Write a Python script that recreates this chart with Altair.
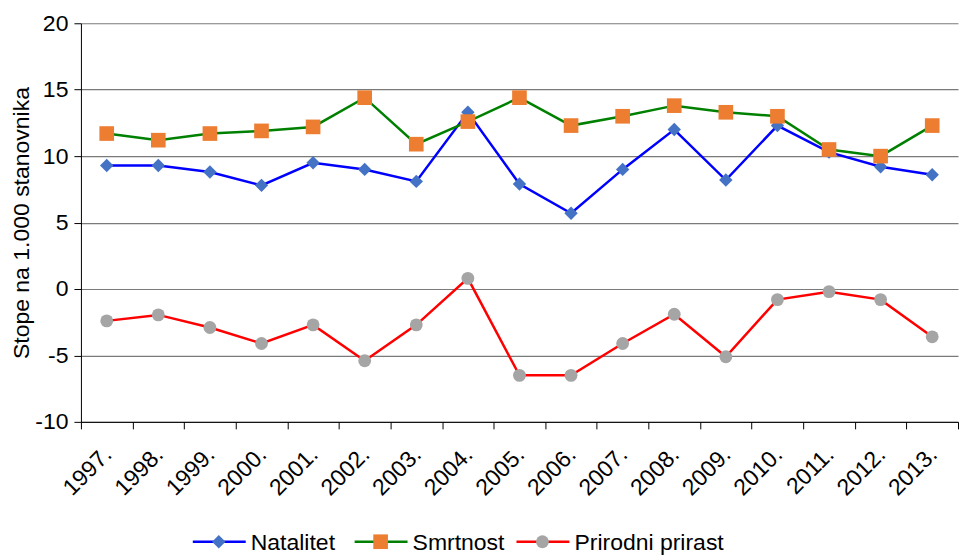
import altair as alt
import pandas as pd

years = ["1997.", "1998.", "1999.", "2000.", "2001.", "2002.", "2003.", "2004.", "2005.",
         "2006.", "2007.", "2008.", "2009.", "2010.", "2011.", "2012.", "2013."]
natalitet = [9.3, 9.3, 8.8, 7.8, 9.5, 9.0, 8.1, 13.3, 7.9, 5.7, 9.0, 12.0, 8.2, 12.3, 10.3, 9.2, 8.6]
smrtnost = [11.7, 11.2, 11.7, 11.9, 12.2, 14.4, 10.9, 12.6, 14.4, 12.3, 13.0, 13.8, 13.3, 13.0, 10.5, 10.0, 12.3]
prirodni_prirast = [-2.4, -1.95, -2.9, -4.1, -2.7, -5.4, -2.7, 0.8, -6.5, -6.5, -4.1, -1.9, -5.1, -0.8, -0.2, -0.8, -3.6]

series = ["Natalitet", "Smrtnost", "Prirodni prirast"]
y_ticks = [-10, -5, 0, 5, 10, 15, 20]

line_colors = ["#0000FF", "#008000", "#FF0000"]
marker_colors = ["#4472C4", "#ED7D31", "#A5A5A5"]
marker_shapes = ["diamond", "square", "circle"]
marker_sizes = [180, 215, 165]

FONT = "Liberation Sans"
FS = 23
PLOT_W = 878
PLOT_H = 399

rows = []
for name, vals in zip(series, [natalitet, smrtnost, prirodni_prirast]):
    for yr, v in zip(years, vals):
        rows.append({"godina": yr, "serija": name, "vrijednost": v})
df = pd.DataFrame(rows)

x_enc = alt.X(
    "godina:N", sort=years,
    scale=alt.Scale(type="band", paddingInner=0, paddingOuter=0),
    axis=alt.Axis(title=None, labelAngle=-45, tickBand="extent", grid=False,
                  labelFontSize=FS, labelFont=FONT, labelColor="black",
                  domainColor="black", tickColor="black", tickSize=7, labelPadding=14,
                  labelOffset=-7),
)
y_enc = alt.Y(
    "vrijednost:Q",
    scale=alt.Scale(domain=[-10, 20], nice=False, zero=False),
    axis=alt.Axis(title="Stope na 1.000 stanovnika", values=y_ticks, grid=True,
                  labelExpr="toString(datum.value)",
                  gridColor="#7A7A7A", gridWidth=1.2, domainColor="black", tickColor="black",
                  tickSize=7, labelPadding=6, labelFontSize=FS, labelFont=FONT,
                  labelColor="black", titleFont=FONT, titleFontSize=FS,
                  titleFontWeight="normal", titleColor="black", titlePadding=1),
)

layers = []
for name, lc, mc, ms, sz in zip(series, line_colors, marker_colors, marker_shapes, marker_sizes):
    base = alt.Chart(df).transform_filter(alt.datum.serija == name)
    layers.append(base.mark_line(strokeWidth=2.5, color=lc).encode(x=x_enc, y=y_enc))
    layers.append(base.mark_point(filled=True, opacity=1, shape=ms, size=sz, color=mc)
                  .encode(x=x_enc, y=y_enc))

main = alt.layer(*layers).properties(width=PLOT_W, height=PLOT_H)

# custom legend (line + marker + label), placed via a band scale of series names
LEG_W = 598
legend_df = pd.DataFrame({"serija": series})
band = alt.Scale(type="band", domain=series, paddingInner=0, paddingOuter=0.3457, align=1)
lx = alt.X("serija:N", sort=series, axis=None, scale=band, bandPosition=0)

leg_layers = []
for name, lc, mc, ms, sz in zip(series, line_colors, marker_colors, marker_shapes, marker_sizes):
    lb = alt.Chart(legend_df).transform_filter(alt.datum.serija == name)
    leg_layers.append(lb.mark_rule(strokeWidth=2.5, color=lc).encode(
        x=lx, x2=alt.X2("serija:N", bandPosition=0.327), y=alt.value(10)))
    leg_layers.append(lb.mark_point(filled=True, opacity=1, xOffset=26, shape=ms,
                                    size=sz, color=mc).encode(x=lx, y=alt.value(10)))
leg_layers.append(alt.Chart(legend_df).mark_text(
    align="left", baseline="middle", xOffset=58, fontSize=FS, font=FONT, color="black"
).encode(x=lx, y=alt.value(11), text="serija:N"))
legend = alt.layer(*leg_layers).properties(width=LEG_W, height=20)

chart = alt.vconcat(main, legend, spacing=32).properties(
    padding={"left": 2, "top": 4, "right": 0, "bottom": 0}
).configure_view(strokeWidth=0)

chart.save("out.html", embed_options={"renderer": "svg", "actions": False})
